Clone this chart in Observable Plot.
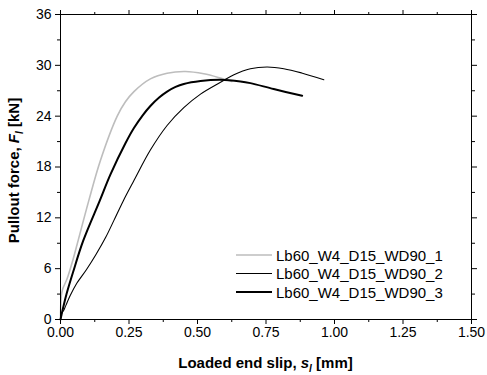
<!DOCTYPE html>
<html><head><meta charset="utf-8">
<script src="https://cdn.jsdelivr.net/npm/d3@7"></script>
<script src="https://cdn.jsdelivr.net/npm/@observablehq/plot@0.6"></script>
<style>
body{margin:0;background:#fff;}
#chart{position:relative;width:487px;height:375px;}
</style></head>
<body><div id="chart"></div>
<script>
const seriesNames = ["Lb60_W4_D15_WD90_1", "Lb60_W4_D15_WD90_2", "Lb60_W4_D15_WD90_3"];
const seriesColors = ["#bdbdbd", "#000000", "#000000"];
const seriesWidths = [1.6, 1.1, 2.0];

const slip1 = [0, 0.003, 0.008, 0.024, 0.045, 0.065, 0.103, 0.146, 0.207, 0.237, 0.268, 0.328, 0.389, 0.456, 0.523, 0.584, 0.625];
const force1 = [0, 2.8, 3.6, 4.8, 7.0, 9.4, 14.0, 18.8, 24.0, 25.7, 26.9, 28.4, 29.07, 29.27, 29.0, 28.5, 28.1];

const slip2 = [0, 0.005, 0.012, 0.02, 0.035, 0.06, 0.095, 0.13, 0.165, 0.195, 0.229, 0.268, 0.328, 0.389, 0.45, 0.511, 0.584, 0.633, 0.693, 0.754, 0.815, 0.88, 0.961];
const force2 = [0, 0.8, 1.1, 1.7, 2.8, 4.3, 5.9, 7.7, 9.7, 11.7, 14.0, 16.4, 20.0, 22.9, 25.0, 26.6, 28.0, 28.9, 29.6, 29.8, 29.6, 29.1, 28.3];

const slip3 = [0, 0.004, 0.01, 0.022, 0.046, 0.083, 0.143, 0.182, 0.237, 0.268, 0.3, 0.328, 0.36, 0.389, 0.42, 0.45, 0.511, 0.584, 0.657, 0.693, 0.778, 0.882];
const force3 = [0, 0.6, 1.45, 3.0, 5.6, 9.3, 14.0, 17.1, 20.8, 22.6, 24.1, 25.2, 26.2, 26.9, 27.45, 27.8, 28.15, 28.3, 28.1, 27.9, 27.2, 26.4];

const xMajor = [0, 0.25, 0.5, 0.75, 1.0, 1.25, 1.5];
const xMinor = [0.125, 0.375, 0.625, 0.875, 1.125, 1.375];
const yMajor = [0, 6, 12, 18, 24, 30, 36];
const yMinor = [3, 9, 15, 21, 27, 33];

const slips = [slip1, slip2, slip3];
const forces = [force1, force2, force3];
const rows = [];
slips.forEach((s, i) => s.forEach((v, j) => rows.push({series: seriesNames[i], s: v, F: forces[i][j]})));

const font = "Arial, 'Liberation Sans', sans-serif";

const lineMarks = seriesNames.map((name, i) =>
  Plot.line(rows.filter(d => d.series === name), {x: "s", y: "F", stroke: seriesColors[i], strokeWidth: seriesWidths[i], curve: "catmull-rom"})
);

const blank = () => "";
const plot = Plot.plot({
  width: 487,
  height: 375,
  marginTop: 14,
  marginRight: 16,
  marginBottom: 56,
  marginLeft: 60,
  style: {fontFamily: font, fontSize: "14px", color: "#000", background: "#fff", overflow: "visible"},
  x: {domain: [0, 1.5]},
  y: {domain: [0, 36]},
  marks: [
    ...lineMarks,
    Plot.frame({stroke: "#000", strokeWidth: 1}),
    Plot.axisX(xMajor, {anchor: "bottom", tickSize: 5, tickPadding: 3, tickFormat: d3.format(".2f"), label: null}),
    Plot.axisX(xMinor, {anchor: "bottom", tickSize: 3, tickFormat: blank, label: null}),
    Plot.axisX(xMajor, {anchor: "top", tickSize: 5, tickFormat: blank, label: null}),
    Plot.axisX(xMinor, {anchor: "top", tickSize: 3, tickFormat: blank, label: null}),
    Plot.axisY(yMajor, {anchor: "left", tickSize: 5, tickPadding: 4, tickFormat: d => String(d), label: null}),
    Plot.axisY(yMinor, {anchor: "left", tickSize: 3, tickFormat: blank, label: null}),
    Plot.axisY(yMajor, {anchor: "right", tickSize: 5, tickFormat: blank, label: null}),
    Plot.axisY(yMinor, {anchor: "right", tickSize: 3, tickFormat: blank, label: null})
  ]
});
document.getElementById("chart").appendChild(plot);

const svg = d3.select(plot);
const xs = plot.scale("x"), ys = plot.scale("y");
const cx = (xs.range[0] + xs.range[1]) / 2;
const cy = (ys.range[0] + ys.range[1]) / 2;

// x-axis title
const xt = svg.append("text").attr("x", cx).attr("y", 368).attr("text-anchor", "middle")
  .attr("font-family", font).attr("font-size", 15).attr("font-weight", "bold").attr("fill", "#000");
xt.append("tspan").text("Loaded end slip, ");
xt.append("tspan").attr("font-style", "italic").text("s");
xt.append("tspan").attr("font-style", "italic").attr("font-size", 10).attr("dy", 4).text("l");
xt.append("tspan").attr("dy", -4).text(" [mm]");

// y-axis title
const yt = svg.append("text").attr("transform", `translate(19,${cy + 4}) rotate(-90)`).attr("text-anchor", "middle")
  .attr("font-family", font).attr("font-size", 15).attr("font-weight", "bold").attr("fill", "#000");
yt.append("tspan").text("Pullout force, ");
yt.append("tspan").attr("font-style", "italic").text("F");
yt.append("tspan").attr("font-style", "italic").attr("font-size", 10).attr("dy", 4).text("l");
yt.append("tspan").attr("dy", -4).text(" [kN]");

// legend
const lg = svg.append("g").attr("text-anchor", "start");
seriesNames.forEach((name, i) => {
  const y = 255 + i * 18.5;
  lg.append("line").attr("x1", 236).attr("x2", 272).attr("y1", y).attr("y2", y)
    .attr("stroke", seriesColors[i]).attr("stroke-width", seriesWidths[i]);
  lg.append("text").attr("x", 276).attr("y", y + 5.5).attr("text-anchor", "start").attr("font-family", font).attr("font-size", 15)
    .attr("fill", "#000").text(name);
});
</script></body></html>
